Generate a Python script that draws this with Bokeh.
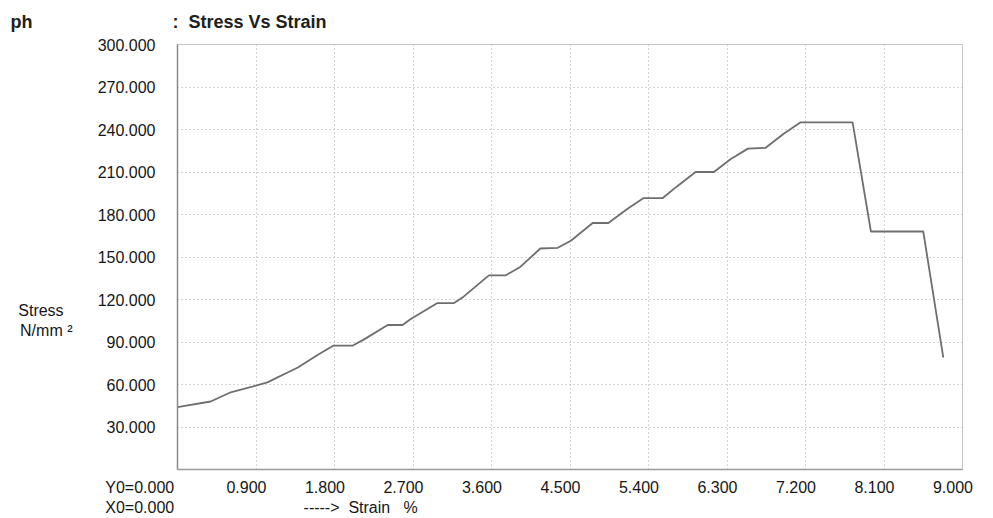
from bokeh.plotting import figure
from bokeh.models import Range1d, FixedTicker, LinearAxis, Grid
from bokeh.embed import file_html
from bokeh.resources import INLINE

# ---- data ----
strain = [0.0, 0.38, 0.61, 0.92, 1.03, 1.38, 1.61, 1.79, 2.01, 2.13, 2.41, 2.58, 2.67,
          2.98, 3.17, 3.28, 3.57, 3.76, 3.93, 4.16, 4.36, 4.51, 4.76, 4.94, 5.16, 5.34,
          5.56, 5.73, 5.94, 6.15, 6.34, 6.54, 6.74, 6.95, 7.14, 7.74, 7.95, 8.55, 8.78]
stress = [44.0, 48.0, 54.5, 59.5, 61.5, 72.0, 81.0, 87.5, 87.5, 91.5, 102.0, 102.0, 106.0,
          117.5, 117.5, 122.0, 137.0, 137.0, 143.0, 156.0, 156.5, 161.5, 174.0, 174.0, 184.0, 191.5,
          191.5, 200.0, 210.0, 210.0, 219.0, 226.5, 227.0, 237.0, 245.0, 245.0, 168.0, 168.0, 79.0]

x_ticks = [0.0, 0.9, 1.8, 2.7, 3.6, 4.5, 5.4, 6.3, 7.2, 8.1, 9.0]
x_tick_labels = ["", "0.900", "1.800", "2.700", "3.600", "4.500", "5.400", "6.300",
                 "7.200", "8.100", "9.000"]
y_ticks = [0, 30, 60, 90, 120, 150, 180, 210, 240, 270, 300]
y_tick_labels = ["", "30.000", "60.000", "90.000", "120.000", "150.000", "180.000",
                 "210.000", "240.000", "270.000", "300.000"]

NB = "\u00a0"
title_prefix = "ph"
title_text = ":" + NB * 2 + "Stress Vs Strain"
y_label_1 = "Stress"
y_label_2 = "N/mm \u00b2"
y0_text = "Y0=0.000"
x0_text = "X0=0.000"
x_label = "----->" + NB * 2 + "Strain" + NB * 3 + "%"

FONT = "Liberation Sans"
TXT = "#161616"

p = figure(width=993, height=518, output_backend="svg", toolbar_location=None,
           x_range=Range1d(0, 9), y_range=Range1d(0, 300),
           x_axis_location=None, y_axis_location="left")
p.min_border_left = 177
p.min_border_right = 31
p.min_border_top = 44
p.min_border_bottom = 45
p.background_fill_color = "white"
p.border_fill_color = "white"
p.outline_line_color = "#c4c4c4"
p.outline_line_width = 1

# title row ("ph" at far left, chart title next to the frame)
p.title.text = title_prefix + NB * 28 + title_text
p.title.align = "left"
p.title.vertical_align = "top"
p.title.offset = -167
p.title.standoff = 21
p.title.text_font = FONT
p.title.text_font_size = "18px"
p.title.text_font_style = "bold"
p.title.text_color = "#202020"

# dotted grids
for g in list(p.center):
    if isinstance(g, Grid):
        p.center.remove(g)
p.add_layout(Grid(dimension=0, ticker=FixedTicker(ticks=x_ticks[1:-1]),
                  grid_line_color="#a8a8a8", grid_line_dash="1 3", grid_line_width=1))
p.add_layout(Grid(dimension=1, ticker=FixedTicker(ticks=y_ticks[1:-1]),
                  grid_line_color="#a8a8a8", grid_line_dash="1 3", grid_line_width=1))


def style_axis(ax, standoff, line_color=None):
    ax.major_tick_in = 0
    ax.major_tick_out = 0
    ax.minor_tick_in = 0
    ax.minor_tick_out = 0
    ax.major_label_standoff = standoff
    ax.axis_line_color = line_color
    ax.axis_line_width = 1.5
    ax.major_label_text_font = FONT
    ax.major_label_text_font_size = "16px"
    ax.major_label_text_color = TXT


# y axis
ya = p.yaxis[0]
ya.ticker = FixedTicker(ticks=y_ticks)
ya.major_label_overrides = dict(zip(y_ticks, y_tick_labels))
style_axis(ya, 22, "#8a8a8a")

# "Stress / N/mm²" beside the y axis
stress_label_at = [112.5, 98.0]
ya2 = LinearAxis(ticker=FixedTicker(ticks=stress_label_at),
                 major_label_overrides={stress_label_at[0]: y_label_1 + NB * 2,
                                        stress_label_at[1]: y_label_2})
style_axis(ya2, 22, None)
p.add_layout(ya2, "left")

# x axis: tick labels printed slightly left of their grid lines, as in the reference
shift = 9.5 / 87.2
p.extra_x_ranges = {"xlab": Range1d(0 + shift, 9 + shift)}
xa_ticks = [shift] + x_ticks[1:]
xa_labels = [y0_text + NB * 17] + x_tick_labels[1:]
xa = LinearAxis(x_range_name="xlab", ticker=FixedTicker(ticks=xa_ticks),
                major_label_overrides=dict(zip(xa_ticks, xa_labels)))
style_axis(xa, 9, "#9a9a9a")
p.add_layout(xa, "below")

# second row under the axis: X0 and the axis caption
strain_label_at = 2.1
xb = LinearAxis(ticker=FixedTicker(ticks=[0.0, strain_label_at]),
                major_label_overrides={0.0: x0_text + NB * 17, strain_label_at: x_label})
style_axis(xb, 0, None)
p.add_layout(xb, "below")

# curve
p.line(strain, stress, line_color="#6e6e6e", line_width=1.8)

open("out.html", "w").write(file_html(p, INLINE))
